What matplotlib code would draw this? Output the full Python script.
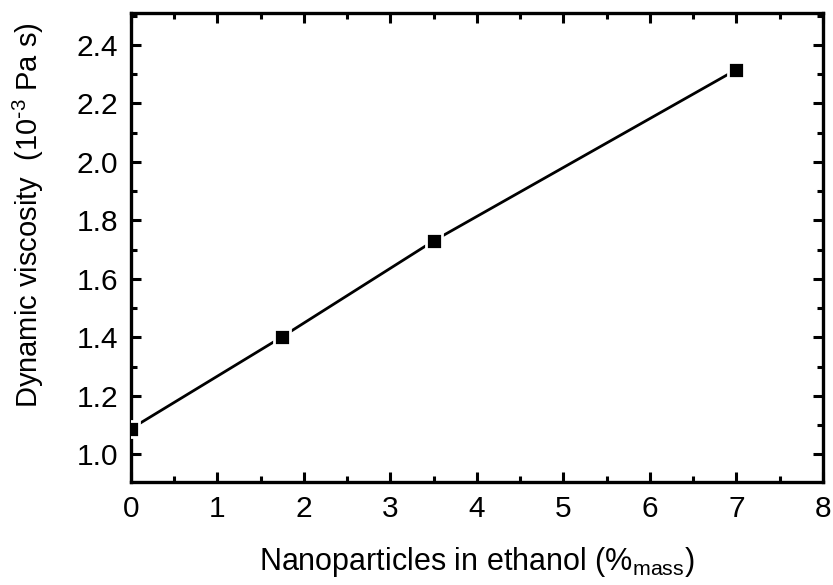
# Dynamic viscosity vs nanoparticle mass fraction in ethanol
import matplotlib
matplotlib.use('Agg')
import matplotlib.pyplot as plt
from matplotlib.ticker import MultipleLocator, FormatStrFormatter

plt.rcParams['font.family'] = ['Liberation Sans', 'DejaVu Sans']
plt.rcParams['mathtext.default'] = 'regular'

## data
conc = [0, 1.75, 3.5, 7]            # % mass
visc = [1.087, 1.402, 1.730, 2.316]  # 10^-3 Pa s

fig = plt.figure(figsize=(8.33, 5.85), dpi=100)
ax = fig.add_axes([0.157, 0.176, 0.831, 0.802])

ax.plot(conc, visc, color='black', linewidth=2, zorder=2)
ax.plot(conc, visc, linestyle='none', marker='s', markersize=11,
        markerfacecolor='black', markeredgecolor='white', markeredgewidth=2, zorder=3)

ax.set_xlim(0, 8)
ax.set_ylim(0.905, 2.51)
ax.xaxis.set_major_locator(MultipleLocator(1))
ax.xaxis.set_minor_locator(MultipleLocator(0.5))
ax.yaxis.set_major_locator(MultipleLocator(0.2))
ax.yaxis.set_minor_locator(MultipleLocator(0.1))
ax.yaxis.set_major_formatter(FormatStrFormatter('%.1f'))

ax.tick_params(which='both', direction='in', top=True, right=True, width=2.2,
               labelsize=21.5, pad=9)
ax.tick_params(which='major', length=7)
ax.tick_params(which='minor', length=4)
for s in ax.spines.values():
    s.set_linewidth(2.4)

ax.set_xlabel('Nanoparticles in ethanol (%$_{mass}$)', fontsize=22, labelpad=16)
ax.set_ylabel('Dynamic viscosity  (10$^{\\text{-}3}$ Pa s)', fontsize=21, labelpad=22)
ax.yaxis.label.set_y(0.57)

fig.savefig('out.png', dpi=100)
